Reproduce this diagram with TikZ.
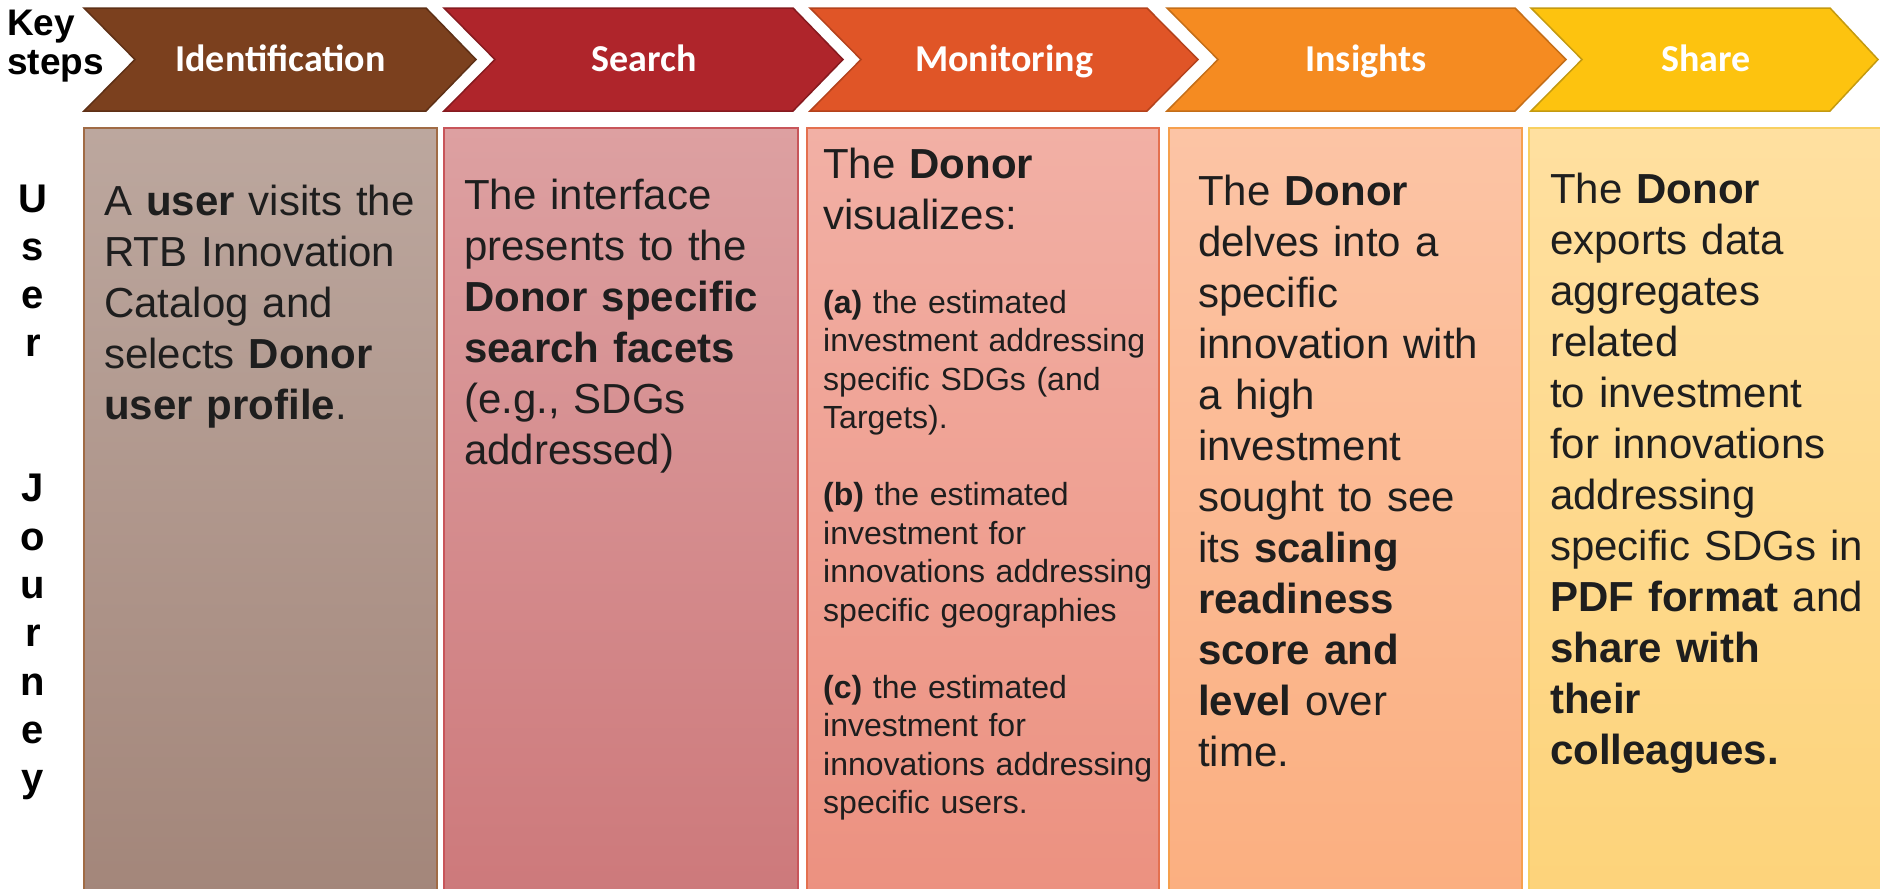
\documentclass[tikz,border=0pt]{standalone}
\usepackage{fontspec}
\setmainfont{Liberation Sans}
\newfontfamily\calib{Carlito}
\definecolor{cA}{HTML}{7B401E}\definecolor{cAb}{HTML}{5E3016}
\definecolor{cB}{HTML}{AF252B}\definecolor{cBb}{HTML}{861A1F}
\definecolor{cC}{HTML}{E05527}\definecolor{cCb}{HTML}{B4421C}
\definecolor{cD}{HTML}{F58B21}\definecolor{cDb}{HTML}{C46E18}
\definecolor{cE}{HTML}{FDC30F}\definecolor{cEb}{HTML}{C49A10}
\definecolor{bAt}{HTML}{BCA79E}\definecolor{bAb}{HTML}{A3867A}\definecolor{bAl}{HTML}{A06B45}
\definecolor{bBt}{HTML}{DDA0A1}\definecolor{bBb}{HTML}{CD797B}\definecolor{bBl}{HTML}{C8555A}
\definecolor{bCt}{HTML}{F2B0A5}\definecolor{bCb}{HTML}{EC9180}\definecolor{bCl}{HTML}{E4704F}
\definecolor{bDt}{HTML}{FCC4A5}\definecolor{bDb}{HTML}{FBAF80}\definecolor{bDl}{HTML}{F6A04E}
\definecolor{bEt}{HTML}{FFE0A0}\definecolor{bEb}{HTML}{FDD37A}\definecolor{bEl}{HTML}{F8D060}
\definecolor{txt}{HTML}{1E1E1E}
\begin{document}
\begin{tikzpicture}[x=1pt,y=1pt,
  chevtext/.style={anchor=base, inner sep=0pt, text=white, font=\calib\bfseries\fontsize{38}{40}\selectfont},
  chevshape/.style={line width=1.5pt, line join=miter},
  boxline/.style={line width=1.5pt},
  bigtext/.style={anchor=base west, inner sep=0pt, align=left, text=txt, font=\fontsize{42}{51}\selectfont},
  smalltext/.style={anchor=base west, inner sep=0pt, align=left, text=txt, font=\fontsize{32}{38.5}\selectfont},
  sidelabel/.style={inner sep=0pt, text=black, font=\bfseries}
]
\useasboundingbox (0,0) rectangle (1880,-889);

% chevrons
\filldraw[chevshape, fill=cA, draw=cAb] (84,-8) -- (426,-8) -- (476,-59.5) -- (426,-111) -- (84,-111) -- (135,-59.5) -- cycle;
\filldraw[chevshape, fill=cB, draw=cBb] (444,-8) -- (793,-8) -- (843,-59.5) -- (793,-111) -- (444,-111) -- (495,-59.5) -- cycle;
\filldraw[chevshape, fill=cC, draw=cCb] (810,-8) -- (1147,-8) -- (1198,-59.5) -- (1147,-111) -- (810,-111) -- (861,-59.5) -- cycle;
\filldraw[chevshape, fill=cD, draw=cDb] (1167,-8) -- (1515,-8) -- (1566,-59.5) -- (1515,-111) -- (1167,-111) -- (1218,-59.5) -- cycle;
\filldraw[chevshape, fill=cE, draw=cEb] (1531,-8) -- (1830,-8) -- (1878,-59.5) -- (1830,-111) -- (1531,-111) -- (1582,-59.5) -- cycle;

\node[chevtext] (s1) at (280.5,-71) {Identification};
\node[chevtext] (s2) at (644,-71) {Search};
\node[chevtext] (s3) at (1004,-71) {Monitoring};
\node[chevtext] (s4) at (1366,-71) {Insights};
\node[chevtext] (s5) at (1706,-71) {Share};

% boxes
\shade[top color=bAt, bottom color=bAb] (84,-128) rectangle (437,-895);
\draw[boxline, draw=bAl] (84,-128) rectangle (437,-895);
\shade[top color=bBt, bottom color=bBb] (444,-128) rectangle (798,-895);
\draw[boxline, draw=bBl] (444,-128) rectangle (798,-895);
\shade[top color=bCt, bottom color=bCb] (807,-128) rectangle (1159,-895);
\draw[boxline, draw=bCl] (807,-128) rectangle (1159,-895);
\shade[top color=bDt, bottom color=bDb] (1169,-128) rectangle (1522,-895);
\draw[boxline, draw=bDl] (1169,-128) rectangle (1522,-895);
\shade[top color=bEt, bottom color=bEb] (1529,-128) rectangle (1885,-895);
\draw[boxline, draw=bEl] (1529,-128) rectangle (1885,-895);

% side labels
\node[sidelabel, anchor=base west, text width=120pt, align=left, font=\bfseries\fontsize{37}{39}\selectfont] (key) at (7,-35) {Key\\steps};
\node[sidelabel, anchor=base, text width=50pt, align=center, font=\bfseries\fontsize{40}{48.3}\selectfont] (uj) at (33,-212) {U\\s\\e\\r\\[96.6pt]J\\o\\u\\r\\n\\e\\y};

% box texts
\node[bigtext, text width=325pt] (t1) at (104,-215) {A \textbf{user} visits the\\RTB Innovation\\Catalog and\\selects \textbf{Donor}\\\textbf{user profile}.};
\node[bigtext, text width=325pt] (t2) at (464,-209) {The interface\\presents to the\\\textbf{Donor specific}\\\textbf{search facets}\\(e.g., SDGs\\addressed)};
\node[bigtext, text width=330pt] (t3) at (823,-178) {The \textbf{Donor}\\visualizes:};
\node[smalltext, text width=330pt] (t3a) at (823,-313) {\textbf{(a)} the estimated\\investment addressing\\specific SDGs (and\\Targets).};
\node[smalltext, text width=330pt] (t3b) at (823,-505.5) {\textbf{(b)} the estimated\\investment for\\innovations addressing\\specific geographies};
\node[smalltext, text width=330pt] (t3c) at (823,-698) {\textbf{(c)} the estimated\\investment for\\innovations addressing\\specific users.};
\node[bigtext, text width=315pt] (t4) at (1198,-205) {The \textbf{Donor}\\delves into a\\specific\\innovation with\\a high\\investment\\sought to see\\its \textbf{scaling}\\\textbf{readiness}\\\textbf{score and}\\\textbf{level} over\\time.};
\node[bigtext, text width=325pt] (t5) at (1550,-203) {The \textbf{Donor}\\exports data\\aggregates\\related\\to investment\\for innovations\\addressing\\specific SDGs in\\\textbf{PDF format} and\\\textbf{share with}\\\textbf{their}\\\textbf{colleagues.}};
\end{tikzpicture}
\end{document}
